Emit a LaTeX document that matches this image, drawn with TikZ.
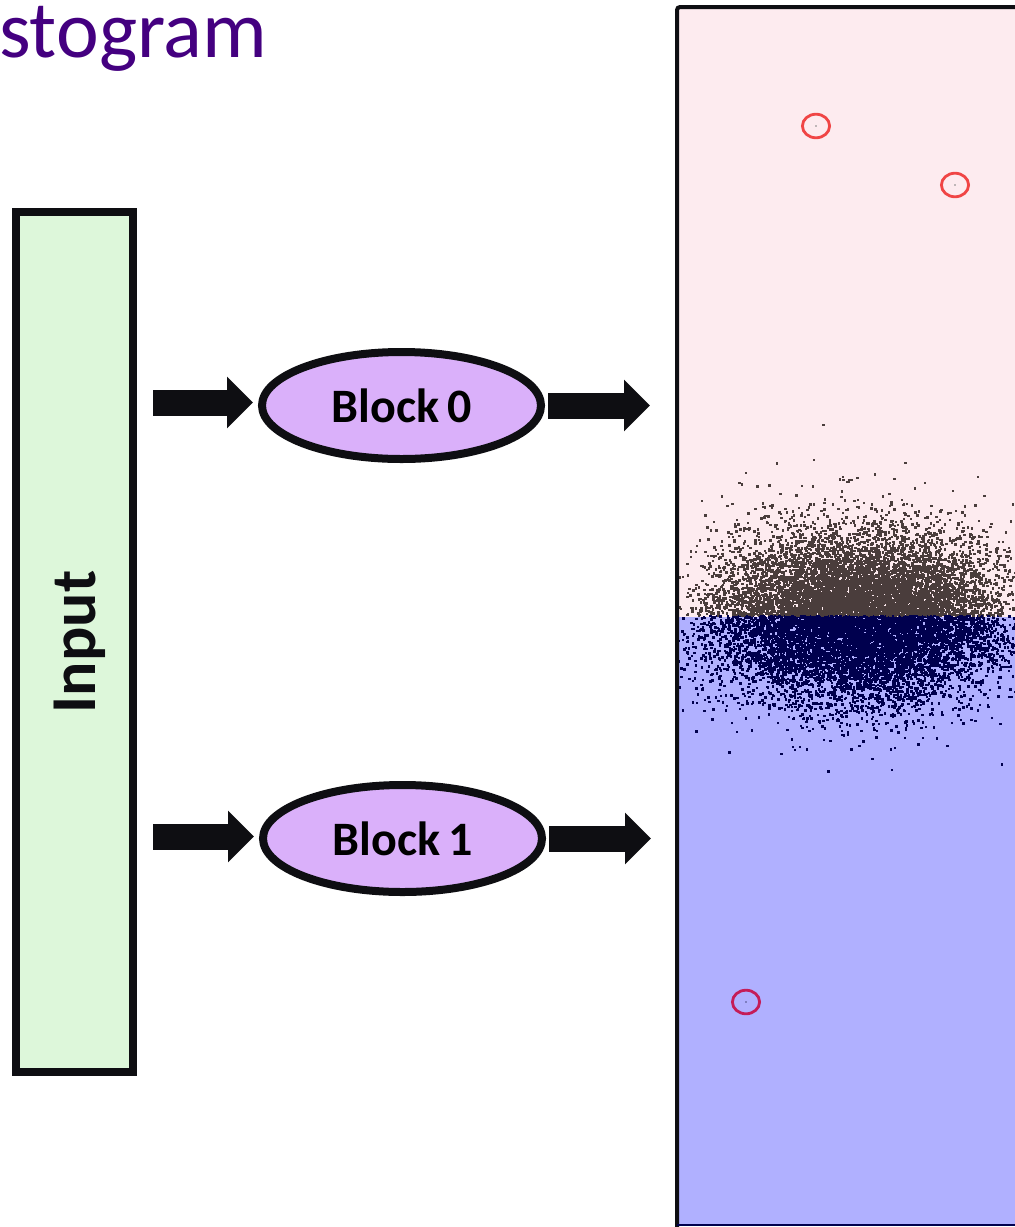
\documentclass[tikz,border=0pt]{standalone}
\usepackage{fontspec}
\setmainfont{Carlito}
\usetikzlibrary{arrows.meta,shapes.geometric}
\definecolor{titlepurple}{HTML}{440080}
\definecolor{inputgreen}{HTML}{DDF7DA}
\definecolor{blockpurple}{HTML}{DAB0FA}
\definecolor{edgeblack}{HTML}{0E0E12}
\definecolor{chartpink}{HTML}{FDEBEF}
\definecolor{chartblue}{HTML}{B0B0FF}
\definecolor{dotup}{HTML}{4A3D3C}
\definecolor{dotdn}{HTML}{00004E}
\definecolor{ringred}{HTML}{F04545}
\definecolor{ringcrim}{HTML}{C41C58}
\tikzset{
  inputbox/.style={draw=edgeblack, fill=inputgreen, line width=8pt, minimum width=117pt, minimum height=860pt, inner sep=0pt},
  blockell/.style={ellipse, draw=edgeblack, fill=blockpurple, line width=8pt, minimum width=279pt, minimum height=107pt, inner sep=0pt, font=\fontsize{48}{50}\selectfont\bfseries},
  blockarrow/.style={draw=edgeblack, line width=26pt, -{Triangle[length=26pt, width=50pt]}},
  ring/.style={line width=2.8pt, x radius=13.6pt, y radius=11.8pt},
}
\begin{document}
\begin{tikzpicture}[x=1pt, y=-1pt]
\useasboundingbox (0,0) rectangle (1015,1227);
% title
\node[anchor=base west, inner sep=0pt, text=titlepurple, font=\fontsize{81}{84}\selectfont] (title) at (-1,57) {stogram};
% input
\node[inputbox] (input) at (74.5,642) {};
\node[rotate=90, font=\fontsize{64}{66}\selectfont\bfseries, text=edgeblack] (inlabel) at (80,642) {Input};
% blocks
\node[blockell] (b0) at (401.5,405.5) {Block\,0};
\node[blockell] (b1) at (402.5,838.5) {Block\,1};
% chart
\coordinate (chart) at (675,617);
\begin{scope}
\clip (677,7) rectangle (1020,1225);
\fill[chartpink] (677,7) rectangle (1020,617);
\fill[chartblue] (677,617) rectangle (1020,1225);
\pgfmathsetseed{7}
\foreach \i in {1,...,14000}{%
  \pgfmathsetmacro{\rr}{sqrt(-2*ln(max(rnd,0.00001)))}%
  \pgfmathsetmacro{\aa}{360*rnd}%
  \pgfmathsetmacro{\px}{857+74*\rr*cos(\aa)}%
  \pgfmathsetmacro{\py}{618+42*\rr*sin(\aa)}%
  \ifdim\py pt<617pt \def\dcol{dotup}\else\def\dcol{dotdn}\fi
  \begin{pgfscope}%
    \pgfsetfillcolor{\dcol}%
    \pgfpathrectangle{\pgfqpoint{\px pt}{-\py pt}}{\pgfqpoint{2.5pt}{2.5pt}}%
    \pgfusepath{fill}%
  \end{pgfscope}%
}
\end{scope}
\draw[edgeblack, line width=4pt, rounded corners=3pt] (677,1227) -- (677,7) -- (1020,7);
\draw[dotdn, line width=2pt] (677,1225) -- (1020,1225);
% outlier rings
\draw[ringred, ring] (816,126) ellipse [];
\fill[gray] (816,126) circle (0.9pt);
\draw[ringred, ring] (955,185) ellipse [];
\fill[gray] (955,185) circle (0.9pt);
\draw[ringcrim, ring] (746,1002) ellipse [];
\fill[dotdn!70] (746,1002) circle (0.9pt);
% arrows
\draw[blockarrow, shorten <=16pt, shorten >=5pt] ([yshift=3pt]input.east |- b0.west) -- ([yshift=3pt]b0.west);
\draw[blockarrow, shorten <=3pt, shorten >=25pt] (b0.east) -- (chart |- b0.east);
\draw[blockarrow, shorten <=16pt, shorten >=5pt] ([yshift=2pt]input.east |- b1.west) -- ([yshift=2pt]b1.west);
\draw[blockarrow, shorten <=3pt, shorten >=24pt] (b1.east) -- (chart |- b1.east);
\end{tikzpicture}
\end{document}
